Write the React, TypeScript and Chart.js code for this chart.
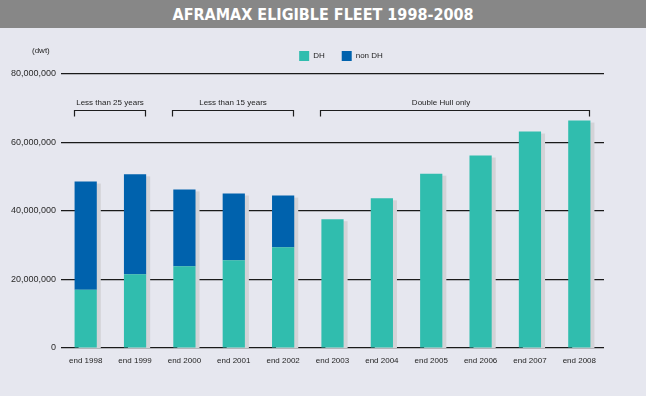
import React, { useEffect, useRef } from "react";
import { Chart, registerables } from "chart.js";

Chart.register(...registerables);

const categories = [
  "end 1998", "end 1999", "end 2000", "end 2001", "end 2002", "end 2003",
  "end 2004", "end 2005", "end 2006", "end 2007", "end 2008",
];
const dhValues = [
  17000000, 21500000, 23900000, 25600000, 29400000, 37600000,
  43700000, 50900000, 56200000, 63200000, 66400000,
];
const nonDhValues = [
  31600000, 29200000, 22400000, 19500000, 15100000, null,
  null, null, null, null, null,
];
const yTicks = [0, 20000000, 40000000, 60000000, 80000000];
const groupLabels = ["Less than 25 years", "Less than 15 years", "Double Hull only"];
const groupStart = [0, 2, 5];
const groupEnd = [1, 4, 10];

const TEAL = "#30bdae";
const BLUE = "#0062ad";
const BG = "#e6e7ef";
const TEXT = "#1e1e1e";
const FONT = "'Liberation Sans', Arial, sans-serif";
const groupLabelShift = [0, 0, -14];

const legendShift = {
  id: "legendShift",
  afterLayout(chart: any) {
    const lg = chart.legend;
    if (!lg) return;
    lg.left += 39;
    lg.right += 39;
    lg.top -= 3;
    lg.bottom -= 3;
  },
};

const shadowPlugin = {
  id: "barShadow",
  beforeDatasetsDraw(chart: any) {
    const { ctx } = chart;
    const y = chart.scales.y;
    const meta = chart.getDatasetMeta(0);
    ctx.save();
    ctx.fillStyle = "#d3d3d7";
    meta.data.forEach((bar: any, i: number) => {
      const total = (dhValues[i] || 0) + (nonDhValues[i] || 0);
      const top = y.getPixelForValue(total);
      const base = y.getPixelForValue(0);
      const w = bar.width;
      ctx.fillRect(bar.x - w / 2 + 4, top + 2, w, base - top - 2);
    });
    ctx.restore();
  },
};

const annotationsPlugin = {
  id: "groupBrackets",
  afterDatasetsDraw(chart: any) {
    const { ctx, chartArea } = chart;
    const meta = chart.getDatasetMeta(0);
    ctx.save();
    ctx.strokeStyle = TEXT;
    ctx.lineWidth = 1.2;
    ctx.fillStyle = TEXT;
    ctx.font = `8px ${FONT}`;
    ctx.textAlign = "center";
    ctx.textBaseline = "middle";
    const by = chartArea.top + 36.5;
    groupLabels.forEach((label, g) => {
      const a = meta.data[groupStart[g]];
      const b = meta.data[groupEnd[g]];
      const left = Math.round(a.x - a.width / 2 - 1) + 0.5;
      const right = Math.round(b.x + b.width / 2 - 1) + 0.5;
      ctx.beginPath();
      ctx.moveTo(left, by + 6);
      ctx.lineTo(left, by);
      ctx.lineTo(right, by);
      ctx.lineTo(right, by + 6);
      ctx.stroke();
      ctx.fillText(label, (left + right) / 2 + groupLabelShift[g], by - 8);
    });
    ctx.textAlign = "left";
    ctx.fillText("(dwt)", 32, 23);
    ctx.restore();
  },
};

function FleetChart() {
  const ref = useRef<HTMLCanvasElement | null>(null);
  useEffect(() => {
    if (!ref.current) return;
    const chart = new Chart(ref.current, {
      type: "bar",
      data: {
        labels: categories,
        datasets: [
          {
            label: "DH",
            data: dhValues,
            backgroundColor: TEAL,
            borderWidth: 0,
            barPercentage: 0.45,
            categoryPercentage: 1,
          },
          {
            label: "non DH",
            data: nonDhValues as any,
            backgroundColor: BLUE,
            borderWidth: 0,
            barPercentage: 0.45,
            categoryPercentage: 1,
          },
        ],
      },
      options: {
        animation: false,
        responsive: false,
        devicePixelRatio: 1,
        layout: { padding: { top: 9, left: 0, right: 42, bottom: 0 } },
        plugins: {
          legend: {
            position: "top",
            labels: {
              boxWidth: 10,
              boxHeight: 10,
              padding: 17,
              color: TEXT,
              font: { size: 8, family: FONT },
            },
          },
          tooltip: { enabled: false },
          title: { display: false },
        },
        scales: {
          x: {
            stacked: true,
            grid: { display: false, drawTicks: false },
            border: { display: false },
            ticks: {
              color: TEXT,
              font: { size: 8, family: FONT },
              padding: 8,
              maxRotation: 0,
              autoSkip: false,
            },
            afterFit: (s: any) => {
              s.height = 48;
            },
          },
          y: {
            stacked: true,
            min: 0,
            max: 80000000,
            afterBuildTicks: (s: any) => {
              s.ticks = yTicks.map((v) => ({ value: v }));
            },
            grid: { color: "#1a1a1a", lineWidth: 1.2, drawTicks: false },
            border: { display: false },
            ticks: {
              color: "#2a2a2a",
              font: { size: 9, family: FONT },
              padding: 5,
              callback: (v: any) => Number(v).toLocaleString("en-US"),
            },
            afterFit: (s: any) => {
              s.width = 61;
            },
          },
        },
      },
      plugins: [legendShift, shadowPlugin, annotationsPlugin],
    });
    return () => chart.destroy();
  }, []);
  return <canvas ref={ref} width={646} height={368} style={{ display: "block" }} />;
}

export default function App() {
  useEffect(() => {
    document.body.style.margin = "0";
  }, []);
  return (
    <div style={{ width: 646, height: 396, background: BG, overflow: "hidden" }}>
      <div
        style={{
          height: 28,
          lineHeight: "29px",
          background: "#878787",
          color: "#ffffff",
          textAlign: "center",
          fontFamily: "'Liberation Sans Narrow', 'DejaVu Sans Condensed', sans-serif",
          fontWeight: "bold",
          fontSize: 16,
          letterSpacing: 0,
        }}
      >
        AFRAMAX ELIGIBLE FLEET 1998-2008
      </div>
      <FleetChart />
    </div>
  );
}
